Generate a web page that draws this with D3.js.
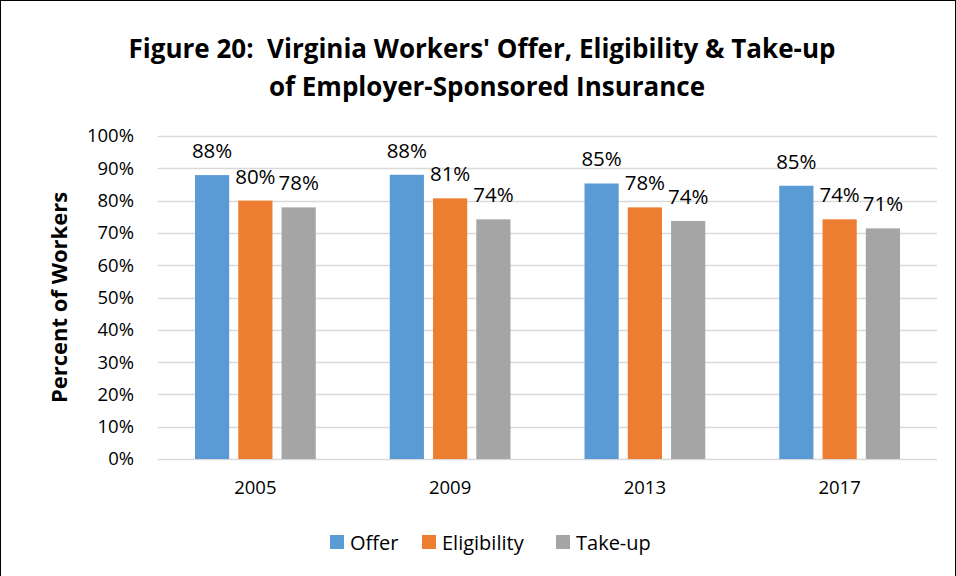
<!DOCTYPE html>
<html>
<head>
<meta charset="utf-8">
<script src="https://cdn.jsdelivr.net/npm/d3@7"></script>
<style>
  body { margin: 0; background: #fff; }
  text { font-family: "Open Sans", "Noto Sans", sans-serif; fill: #000; }
</style>
</head>
<body>
<script>
var w = 956;
var h = 576;

// data
var years = ["2005", "2009", "2013", "2017"];
var seriesNames = ["Offer", "Eligibility", "Take-up"];
var offer = [87.9, 88.0, 85.3, 84.6];
var eligibility = [80.0, 80.7, 77.9, 74.2];
var takeup = [77.9, 74.2, 73.7, 71.4];
var yTicks = [0, 10, 20, 30, 40, 50, 60, 70, 80, 90, 100];
var colors = ["#5B9BD5", "#ED7D31", "#A5A5A5"];

var series = [offer, eligibility, takeup];

var svg = d3.select("body").append("svg")
            .attr("width", w)
            .attr("height", h);

// outer frame
svg.append("rect")
   .attr("x", 0.5)
   .attr("y", 0.5)
   .attr("width", w - 1)
   .attr("height", h + 10)
   .attr("fill", "none")
   .attr("stroke", "#000")
   .attr("stroke-width", 1);

// title
var title = svg.append("text")
               .attr("text-anchor", "middle")
               .style("font-weight", "bold")
               .style("font-size", "26px")
               .style("white-space", "pre");
title.append("tspan").attr("x", 482).attr("y", 58)
     .text("Figure 20:  Virginia Workers' Offer, Eligibility & Take-up");
title.append("tspan").attr("x", 487).attr("y", 96)
     .text("of Employer-Sponsored Insurance");

var plotL = 158, plotR = 937, plotT = 136, plotB = 459;

var x = d3.scaleBand()
          .domain(years)
          .range([plotL, plotR])
          .paddingInner(0)
          .paddingOuter(0);

var xInner = d3.scaleBand()
               .domain(seriesNames)
               .range([37, x.bandwidth() - 37])
               .paddingInner(0.21);

var y = d3.scaleLinear()
          .domain([0, 100])
          .range([plotB, plotT]);

// gridlines
svg.append("g")
   .selectAll("line")
   .data(yTicks)
   .enter().append("line")
   .attr("x1", plotL)
   .attr("x2", plotR)
   .attr("y1", function(d) { return Math.round(y(d)) + 0.5; })
   .attr("y2", function(d) { return Math.round(y(d)) + 0.5; })
   .attr("stroke", "#D9D9D9")
   .attr("stroke-width", 1.3);

// y axis labels
var yAxis = svg.append("g")
               .attr("transform", "translate(" + plotL + ",0)")
               .call(d3.axisLeft(y).tickValues(yTicks)
                       .tickFormat(function(d) { return d + "%"; })
                       .tickSize(0).tickPadding(24));
yAxis.select(".domain").remove();
yAxis.selectAll("text")
     .style("font-size", "18.5px")
     .attr("font-family", null);

// x axis labels
var xAxis = svg.append("g")
               .attr("transform", "translate(0," + plotB + ")")
               .call(d3.axisBottom(x).tickSize(0).tickPadding(22));
xAxis.select(".domain").remove();
xAxis.selectAll("text")
     .style("font-size", "18.5px")
     .attr("font-family", null);

// bars
var groups = svg.append("g")
                .selectAll("g")
                .data(years)
                .enter().append("g")
                .attr("transform", function(d) { return "translate(" + x(d) + ",0)"; });

groups.selectAll("rect")
      .data(function(d, i) {
        return seriesNames.map(function(s, j) { return {s: s, j: j, v: series[j][i]}; });
      })
      .enter().append("rect")
      .attr("x", function(d) { return xInner(d.s); })
      .attr("y", function(d) { return y(d.v); })
      .attr("width", xInner.bandwidth())
      .attr("height", function(d) { return plotB - y(d.v); })
      .attr("fill", function(d) { return colors[d.j]; });

groups.selectAll("text.lbl")
      .data(function(d, i) {
        return seriesNames.map(function(s, j) { return {s: s, j: j, v: series[j][i]}; });
      })
      .enter().append("text")
      .attr("class", "lbl")
      .attr("x", function(d) { return xInner(d.s) + xInner.bandwidth() / 2; })
      .attr("y", function(d) { return y(d.v) - 17; })
      .attr("text-anchor", "middle")
      .style("font-size", "20.5px")
      .text(function(d) { return Math.round(d.v) + "%"; });

// y axis title
svg.append("text")
   .attr("transform", "translate(67," + ((plotT + plotB) / 2) + ") rotate(-90)")
   .attr("text-anchor", "middle")
   .style("font-weight", "bold")
   .style("font-size", "22px")
   .text("Percent of Workers");

// legend
var legendX = [330, 422, 556];
var legend = svg.append("g")
                .selectAll("g")
                .data(seriesNames)
                .enter().append("g")
                .attr("transform", function(d, i) { return "translate(" + legendX[i] + ",535)"; });
legend.append("rect")
      .attr("width", 14)
      .attr("height", 14)
      .attr("fill", function(d, i) { return colors[i]; });
legend.append("text")
      .attr("x", 20)
      .attr("y", 15)
      .style("font-size", "20px")
      .text(function(d) { return d; });
</script>
</body>
</html>
